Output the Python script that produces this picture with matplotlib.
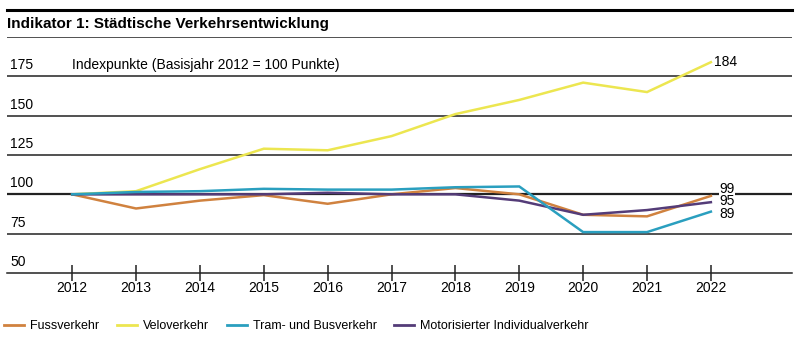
import matplotlib.pyplot as plt
from matplotlib.lines import Line2D

plt.rcParams['font.family'] = ['Liberation Sans', 'DejaVu Sans']

#------- data

years = [2012, 2013, 2014, 2015, 2016, 2017, 2018, 2019, 2020, 2021, 2022]
fuss = [100, 91, 96, 99.5, 94, 100, 104, 100, 87, 86, 99]
velo = [100, 102, 116, 129, 128, 137, 151, 160, 171, 165, 184]
tram = [100, 101.5, 102, 103.5, 103, 103, 104.5, 105, 76, 76, 89]
miv = [100, 100, 100, 100, 101, 100, 100, 96, 87, 90, 95]

series_names = ['Fussverkehr', 'Veloverkehr', 'Tram- und Busverkehr', 'Motorisierter Individualverkehr']
series_colors = ['#d0823f', '#ece650', '#2a9fbf', '#543c78']
y_ticks = [50, 75, 100, 125, 150, 175]
end_labels = ['99', '95', '89']
end_label_pos = [103.5, 95.5, 87.5]

#------- figure and axes

fig = plt.figure(figsize=(8, 3.46), dpi=100)
ax = fig.add_axes([7 / 800, 1 - 273 / 346, 785 / 800, 236 / 346])
ax.set_xlim(2010.98, 2023.27)
ax.set_ylim(50, 200)

for v in y_ticks + [200]:
    if v > 50:
        lw = 1.6 if v == 100 else 1.1
        ax.axhline(v, color='#222222', lw=lw, zorder=1)
    if v < 200:
        ax.text(2011.03, v + 2.5, str(v), fontsize=10, va='bottom', ha='left')

ax.text(2012, 177.5, 'Indexpunkte (Basisjahr 2012 = 100 Punkte)', fontsize=10, va='bottom', ha='left')

series = [fuss, velo, tram, miv]
draw_order = [1, 0, 3, 2]
for i in draw_order:
    ax.plot(years, series[i], color=series_colors[i], lw=1.8, zorder=3, clip_on=False,
            solid_joinstyle='miter')

ax.text(2022.05, velo[-1], str(velo[-1]), fontsize=10, va='center', ha='left')
for lab, pos in zip(end_labels, end_label_pos):
    ax.text(2022.13, pos, lab, fontsize=10, va='center', ha='left',
            bbox=dict(facecolor='white', edgecolor='none', pad=0.2), zorder=4)

for s in ['top', 'right', 'left']:
    ax.spines[s].set_visible(False)
ax.spines['bottom'].set_linewidth(1.1)
ax.spines['bottom'].set_color('#222222')
ax.set_yticks([])
ax.set_xticks(years)
ax.set_xticklabels([str(y) for y in years], fontsize=10)
ax.tick_params(axis='x', direction='inout', length=12, width=1.1, color='#222222', pad=0)

#------- title with rules

fig.add_artist(Line2D([7 / 800, 792 / 800], [1 - 10 / 346, 1 - 10 / 346], color='black', lw=2.2))
fig.text(7 / 800, 1 - 24 / 346, 'Indikator 1: Städtische Verkehrsentwicklung', fontsize=11,
         fontweight='bold', va='center', ha='left')

#------- legend

handles = [Line2D([0], [0], color=c, lw=2) for c in series_colors]
fig.legend(handles, series_names, loc='center left', bbox_to_anchor=(0.0, 1 - 326 / 346), ncol=4,
           frameon=False, fontsize=9, handlelength=1.6, handletextpad=0.5, columnspacing=1.4,
           borderaxespad=0, borderpad=0.3)

plt.savefig('out.png', dpi=100)
